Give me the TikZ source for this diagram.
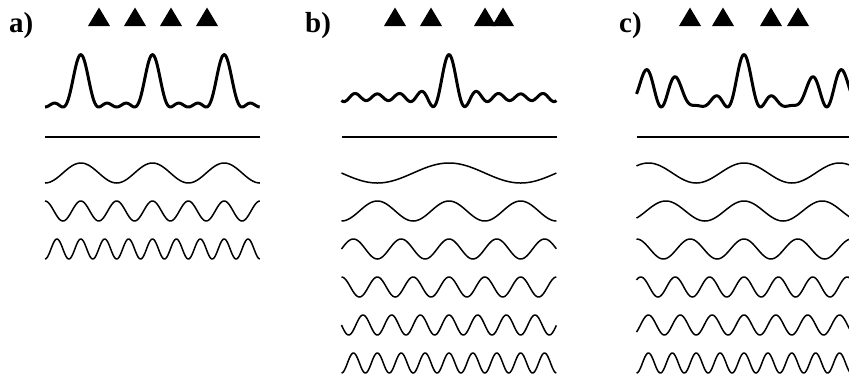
\documentclass[tikz,border=0pt]{standalone}
\usepackage{fontspec}
\setmainfont{Liberation Serif}
\begin{document}
\begin{tikzpicture}[x=1pt,y=-1pt,
  wave/.style={line width=1.5pt, line join=round},
  sumcurve/.style={line width=3pt, line join=round},
  axisline/.style={line width=1.5pt},
  plabel/.style={font=\fontsize{29}{29}\selectfont\bfseries, inner sep=0pt, anchor=base west},
  ant/.style={fill=black}]
\useasboundingbox (0,0) rectangle (849,378);
\clip (0,0) rectangle (849,378);
% labels
\node[plabel] (la) at (9,32) {a)};
\node[plabel] (lb) at (305,32) {b)};
\node[plabel] (lc) at (619,32) {c)};
% antennas
\foreach \x in {99,135,171,207, 395,431,485,503, 690,723,771,798}
  \fill[ant] (\x,7.5) -- (\x+11,26) -- (\x-11,26) -- cycle;
% ---------- panel a
\begin{scope}[xshift=45pt]
\draw[sumcurve] plot[domain=0:1,samples=400,variable=\u] ({215*\u},{107-3.27*(4+6*cos(1080*(\u-0.5))+4*cos(2160*(\u-0.5))+2*cos(3240*(\u-0.5)))});
\draw[axisline] (0,137) -- (215,137);
\foreach \f/\y in {1080/173, 2160/211, 3240/249}
  \draw[wave] plot[domain=0:1,samples=300,variable=\u] ({215*\u},{\y-10*cos(\f*(\u-0.5))});
\end{scope}
% ---------- panel b
\begin{scope}[xshift=341.5pt]
\draw[sumcurve] plot[domain=0:1,samples=500,variable=\u] ({215*\u},{107-3.27*(4+2*(cos(540*(\u-0.5))+cos(1080*(\u-0.5))+cos(1620*(\u-0.5))+cos(2160*(\u-0.5))+cos(2700*(\u-0.5))+cos(3240*(\u-0.5))))});
\draw[axisline] (0,137) -- (215,137);
\foreach \f/\y in {540/173, 1080/211, 1620/249, 2160/287, 2700/325, 3240/363}
  \draw[wave] plot[domain=0:1,samples=300,variable=\u] ({215*\u},{\y-10*cos(\f*(\u-0.5))});
\end{scope}
% ---------- panel c
\begin{scope}[xshift=636.5pt]
\draw[sumcurve] plot[domain=0:1,samples=500,variable=\u] ({215*\u},{107-3.27*(4+2*(cos(810*(\u-0.5))+cos(990*(\u-0.5))+cos(1440*(\u-0.5))+cos(2250*(\u-0.5))+cos(2430*(\u-0.5))+cos(3240*(\u-0.5))))});
\draw[axisline] (0,137) -- (215,137);
\foreach \f/\y in {810/173, 990/211, 1440/249, 2250/287, 2430/325, 3240/363}
  \draw[wave] plot[domain=0:1,samples=300,variable=\u] ({215*\u},{\y-10*cos(\f*(\u-0.5))});
\end{scope}
\end{tikzpicture}
\end{document}
